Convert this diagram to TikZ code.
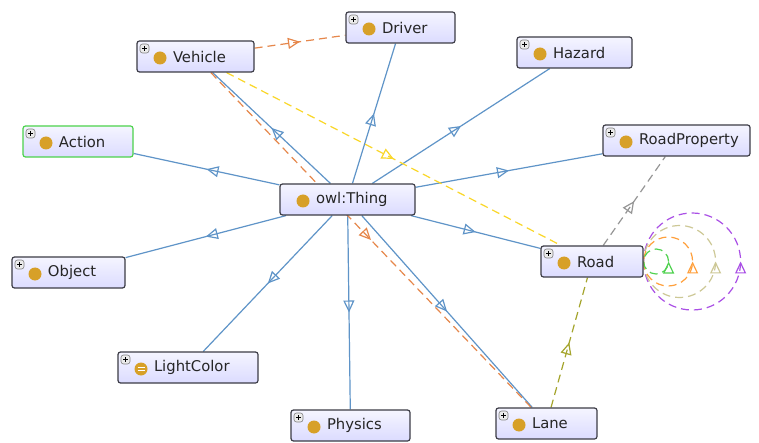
\documentclass[tikz,border=0pt]{standalone}
\usepackage{fontspec}
\setmainfont{DejaVu Sans}
\usetikzlibrary{arrows.meta, decorations.markings, backgrounds}

\definecolor{isablue}{RGB}{95,148,200}
\definecolor{relorange}{RGB}{230,135,75}
\definecolor{relyellow}{RGB}{250,215,40}
\definecolor{relgray}{RGB}{150,150,150}
\definecolor{relolive}{RGB}{165,165,45}
\definecolor{loopgreen}{RGB}{80,210,80}
\definecolor{looporange}{RGB}{255,160,60}
\definecolor{looptan}{RGB}{205,200,150}
\definecolor{looppurple}{RGB}{170,80,230}
\definecolor{owlgold}{RGB}{215,160,40}
\definecolor{boxline}{RGB}{60,60,70}

% small icons drawn inside the class boxes
\newcommand{\plusicon}{%
  \draw[gray, fill=black!8, line width=.6pt] ([xshift=3pt,yshift=-3pt]path picture bounding box.north west) rectangle ++(9pt,-9pt);
  \draw[black, line width=.8pt] ([xshift=5pt,yshift=-7.5pt]path picture bounding box.north west) -- ++(5pt,0pt);
  \draw[black, line width=.8pt] ([xshift=7.5pt,yshift=-5pt]path picture bounding box.north west) -- ++(0pt,-5pt);}
\newcommand{\owldot}{%
  \fill[owlgold] ([xshift=23pt,yshift=-1.5pt]path picture bounding box.west) circle (6.5pt);}

\tikzset{
  box/.style={draw=boxline, line width=1.2pt, rounded corners=2.5pt,
    top color=white!96!blue, bottom color=blue!14!white,
    text width=#1, minimum height=31pt, inner xsep=4pt, inner ysep=0pt,
    font=\fontsize{14.8}{16}\selectfont, text=black!85,
    execute at begin node=\hspace*{32pt}},
  cls/.style={box=#1, path picture={\plusicon\owldot}},
  isa/.style={isablue, line width=1.2pt, postaction={decorate},
    decoration={markings, mark=at position 0.5 with {\arrow{Triangle[open, length=12pt, width=11pt, line width=1.2pt]}}}},
  rel/.style={#1, line width=1.2pt, dash pattern=on 8pt off 5pt, postaction={decorate},
    decoration={markings, mark=at position 0.5 with {\arrow[solid]{Triangle[open, length=12pt, width=11pt, line width=1.2pt]}}}}
}

\begin{document}
\begin{tikzpicture}[x=1pt, y=-1pt]

\useasboundingbox (0,0) rectangle (759,443);
%\draw[step=50, gray!30] (0,0) grid (759,443);

\node[box=127pt, path picture={\owldot}] (Thing) at (347.5,199.5) {owl:Thing};
\node[cls=101pt] (Driver) at (400.5,27.5) {Driver};
\node[cls=109pt] (Vehicle) at (195.5,56.5) {Vehicle};
\node[cls=107pt] (Hazard) at (574.5,52.5) {Hazard};
\node[cls=102pt, draw=green!75!black!70] (Action) at (78,141.5) {Action};
\node[cls=139pt] (RoadProperty) at (676.5,140.5) {RoadProperty};
\node[cls=94pt] (Road) at (592,261.5) {Road};
\node[cls=105pt] (Object) at (68.5,272.5) {Object};
\node[box=132pt, path picture={\plusicon\owldot
  \draw[white, line width=.8pt] ([xshift=19.5pt,yshift=-0.2pt]path picture bounding box.west) -- ++(7pt,0pt);
  \draw[white, line width=.8pt] ([xshift=19.5pt,yshift=-2.8pt]path picture bounding box.west) -- ++(7pt,0pt);}]
  (LightColor) at (188,367.5) {LightColor};
\node[cls=111pt] (Physics) at (350.5,425.5) {Physics};
\node[cls=93pt] (Lane) at (546.5,423.5) {Lane};

\begin{scope}[on background layer]
\fill[white] (0,0) rectangle (759,443);
\foreach \sub in {Driver,Vehicle,Hazard,Action,RoadProperty,Road,Object,LightColor,Physics,Lane}
  \draw[isa] (Thing) -- (\sub);

\draw[rel=relorange] (Vehicle) -- (Driver);
\draw[rel=relorange] (Vehicle) -- (Lane);
\draw[rel=relyellow] (Vehicle) -- (Road);
\draw[rel=relgray] (Road) -- (RoadProperty);
\draw[rel=relolive] (Lane) -- (Road);

% self loops on Road
\draw[rel=looppurple] (Road.east) arc[start angle=180, end angle=-180, radius=48.5];
\draw[rel=looptan] (Road.east) arc[start angle=180, end angle=-180, radius=36];
\draw[rel=looporange] (Road.east) arc[start angle=180, end angle=-180, radius=24.5];
\draw[rel=loopgreen] (Road.east) arc[start angle=180, end angle=-180, radius=12.5];
\end{scope}

\end{tikzpicture}
\end{document}
